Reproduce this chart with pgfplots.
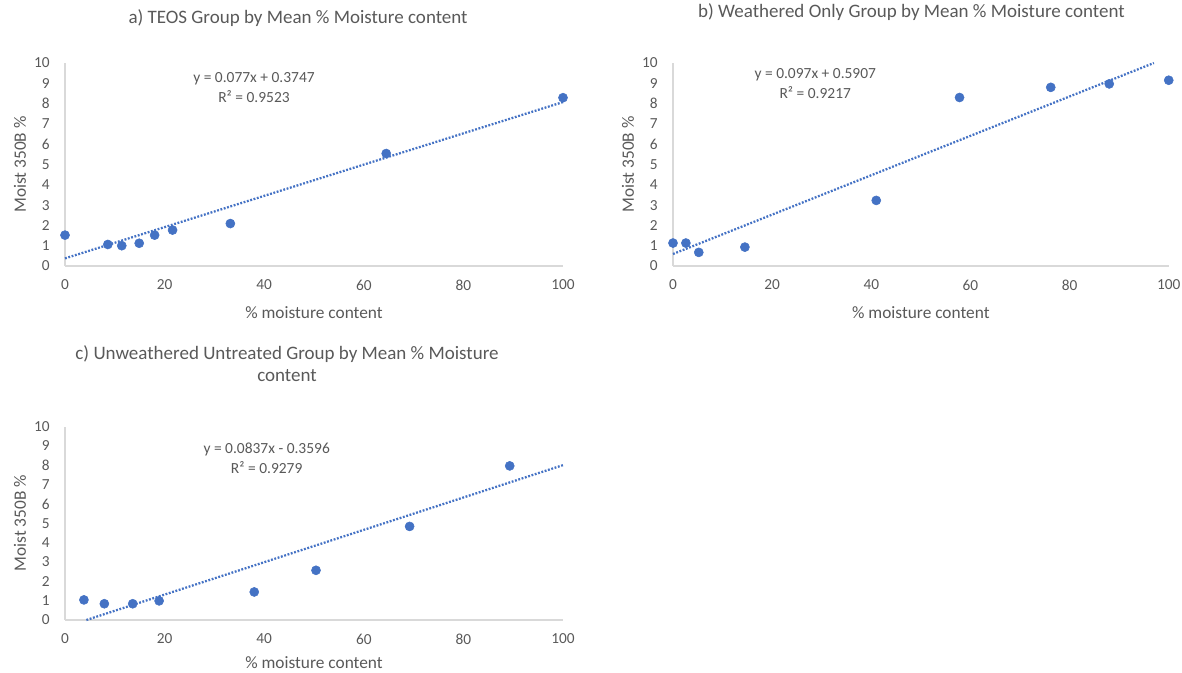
\documentclass[border=0pt]{standalone}
\usepackage{fontspec}
\setmainfont{Carlito}
\usepackage{pgfplots}
\pgfplotsset{compat=1.18}

\definecolor{markblue}{HTML}{4472C4}
\definecolor{txtgray}{HTML}{595959}
\definecolor{axgray}{HTML}{D9D9D9}

\pgfplotsset{
  moiststyle/.style={
    scale only axis,
    xmin=0, xmax=100, ymin=0, ymax=10,
    xtick={0,20,...,100}, ytick={0,1,...,10},
    axis x line*=bottom, axis y line*=left,
    axis line style={-, draw=axgray, line width=0.8pt},
    every outer x axis line/.append style={-},
    every outer y axis line/.append style={-},
    every inner x axis line/.append style={-},
    every inner y axis line/.append style={-},
    major tick length=0pt,
    tick style={draw=none},
    /pgf/number format/assume math mode=true,
    ticklabel style={font=\fontsize{11.5}{13}\selectfont, text=txtgray},
    xticklabel style={anchor=center, inner sep=0pt, yshift=-14.25pt},
    yticklabel style={anchor=east, inner sep=0pt, xshift=-11.25pt},
    xlabel={\% moisture content},
    ylabel={Moist 350B \%},
    label style={font=\fontsize{13}{15}\selectfont, text=txtgray, inner sep=0pt},
    title style={font=\fontsize{14.25}{16.7}\selectfont, text=txtgray, align=center},
    clip=false,
  },
  points/.style={only marks, mark=*, mark size=3.4pt,
    mark options={fill=markblue, draw=markblue}},
  trend/.style={no marks, draw=markblue, line width=1.7pt,
    dash pattern=on 1.4pt off 1.2pt},
}
\tikzset{
  eqlabel/.style={align=center, text=txtgray,
    font=\fontsize{11.6}{15}\selectfont},
}

\begin{document}
\begin{tikzpicture}
\useasboundingbox (0,0) rectangle (886.5pt,504.75pt);

% a) TEOS group
\begin{axis}[moiststyle,
  at={(48.75pt,305.25pt)}, anchor=south west,
  width=373.5pt, height=152.25pt,
  title={a) TEOS Group by Mean \% Moisture content},
  title style={at={(axis description cs:0.468,1.182)}, anchor=center},
  xlabel style={at={(axis description cs:0.5,-0.2315)}, anchor=center},
  ylabel style={at={(axis description cs:-0.0904,0.5)}, anchor=center},
]
\addplot[trend] coordinates {(0,0.3747) (100,8.0747)};
\addplot[points] coordinates {
  (0,1.52) (8.6,1.06) (11.4,1.00) (14.9,1.12) (18.0,1.52)
  (21.6,1.77) (33.2,2.09) (64.5,5.54) (100,8.29)
};
\node[eqlabel] at (axis cs:37.95,8.77) {y = 0.077x + 0.3747\\R² = 0.9523};
\end{axis}

% b) Weathered only group
\begin{axis}[moiststyle,
  at={(504.75pt,305.25pt)}, anchor=south west,
  width=371.8pt, height=152.25pt,
  title={b) Weathered Only Group by Mean \% Moisture content},
  title style={at={(axis description cs:0.481,1.212)}, anchor=center},
  xlabel style={at={(axis description cs:0.5,-0.2315)}, anchor=center},
  ylabel style={at={(axis description cs:-0.0908,0.5)}, anchor=center},
]
\addplot[trend] coordinates {(0,0.5907) (97.0,10)};
\addplot[points] coordinates {
  (0,1.13) (2.6,1.13) (5.2,0.67) (14.5,0.93) (41.0,3.23)
  (57.8,8.30) (76.2,8.80) (88.0,8.97) (100,9.15)
};
\node[eqlabel] at (axis cs:28.7,9.0) {y = 0.097x + 0.5907\\R² = 0.9217};
\end{axis}

% c) Unweathered untreated group
\begin{axis}[moiststyle,
  at={(48.75pt,39.75pt)}, anchor=south west,
  width=373.5pt, height=145pt,
  title={c) Unweathered Untreated Group by Mean \% Moisture\\content},
  title style={at={(axis description cs:0.4458,1.283)}, anchor=center},
  xlabel style={at={(axis description cs:0.5,-0.222)}, anchor=center},
  ylabel style={at={(axis description cs:-0.0904,0.5)}, anchor=center},
]
\addplot[trend] coordinates {(4.296,0) (100,8.0104)};
\addplot[points] coordinates {
  (3.8,1.04) (7.9,0.84) (13.6,0.84) (18.9,0.99) (38.0,1.45)
  (50.4,2.57) (69.2,4.84) (89.3,7.97)
};
\node[eqlabel] at (axis cs:40.5,8.38) {y = 0.0837x - 0.3596\\R² = 0.9279};
\end{axis}
\end{tikzpicture}
\end{document}
